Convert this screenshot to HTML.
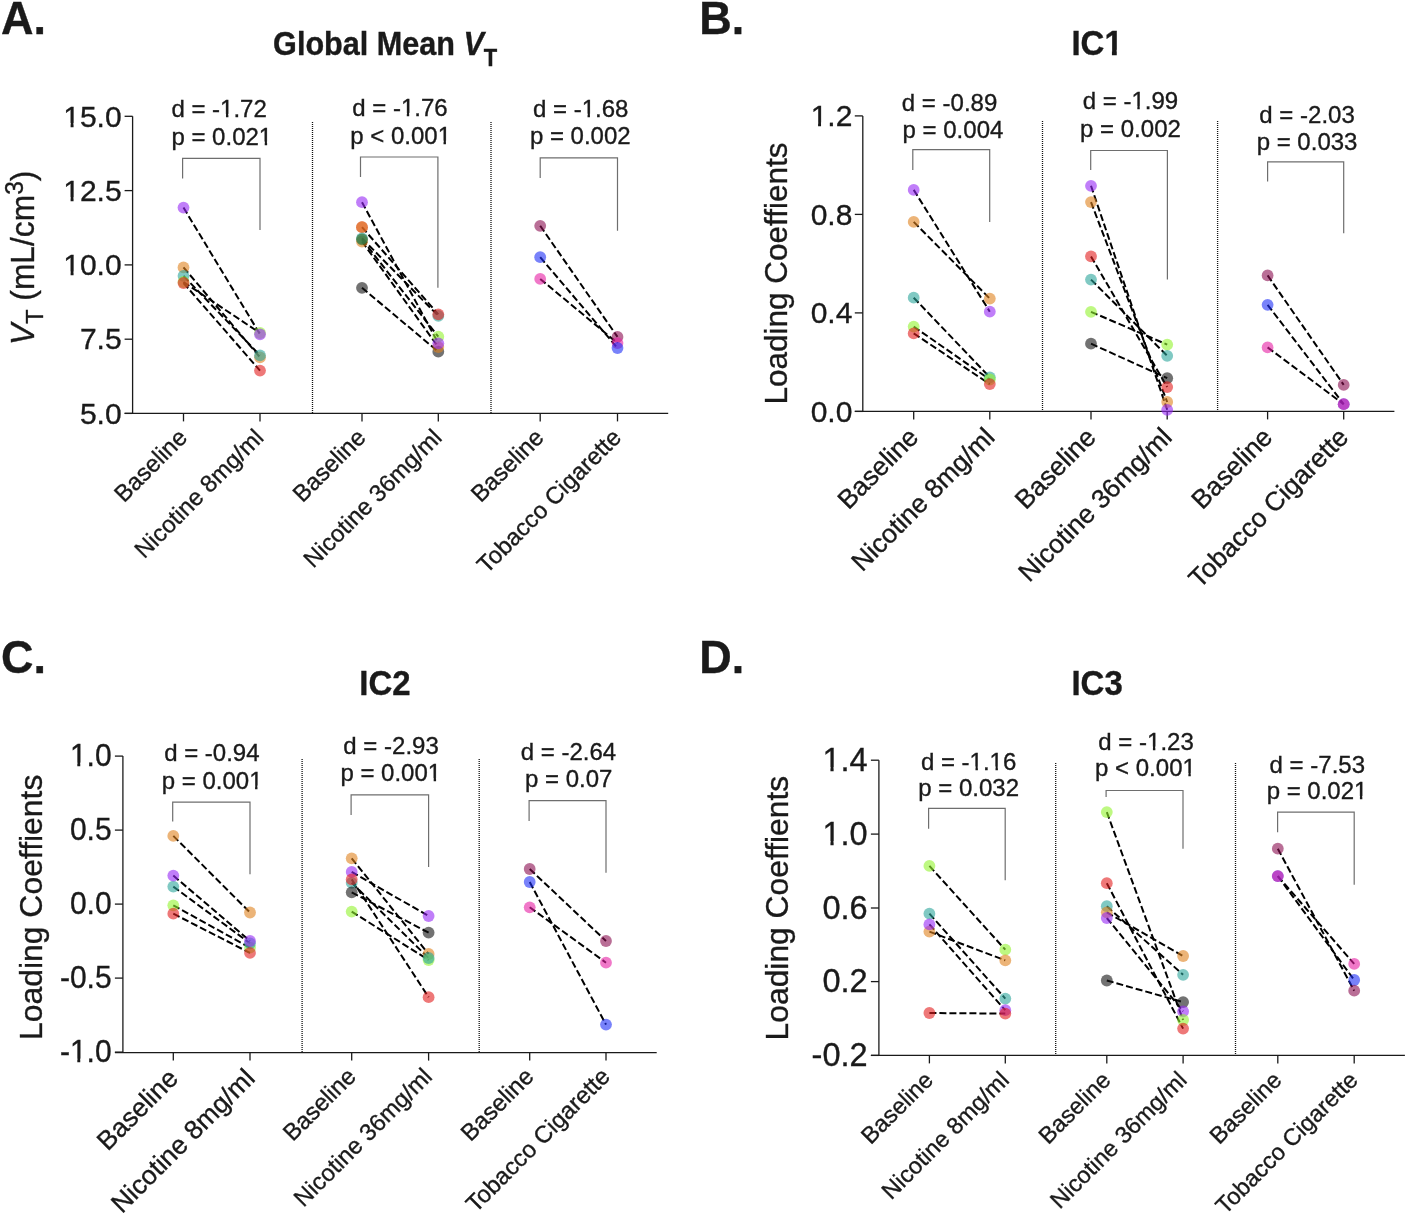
<!DOCTYPE html>
<html><head><meta charset="utf-8"><style>
html,body{margin:0;padding:0;background:#fff;}
svg{display:block;will-change:transform;}
text{font-family:"Liberation Sans", sans-serif;fill:#1a1a1a;stroke:#1a1a1a;stroke-width:0.35px;}
.ax{stroke:#1a1a1a;stroke-width:1.3;fill:none;}
.dot{stroke:#111;stroke-width:1.3;stroke-dasharray:1 1;fill:none;}
.br{stroke:#6e6e6e;stroke-width:1.2;fill:none;}
.dl{stroke:#000;stroke-width:2;stroke-dasharray:7 3;fill:none;}
</style></head><body>
<svg width="1408" height="1215" viewBox="0 0 1408 1215">
<rect width="1408" height="1215" fill="#fff"/>
<line x1="132.6" y1="116.3" x2="132.6" y2="413.4" class="ax"/>
<line x1="124.6" y1="413.4" x2="668.2" y2="413.4" class="ax"/>
<line x1="124.6" y1="116.3" x2="132.6" y2="116.3" class="ax"/>
<g transform="translate(121.6,126.5)"><text id="t1" x="0" y="0" font-size="30" text-anchor="end" font-weight="normal" >15.0</text><rect x="-57.41" y="-3.54" width="6.41" height="5.14" fill="#fff"/><rect x="-48.05" y="-3.54" width="6.17" height="5.14" fill="#fff"/></g>
<line x1="124.6" y1="190.6" x2="132.6" y2="190.6" class="ax"/>
<g transform="translate(121.6,200.8)"><text id="t2" x="0" y="0" font-size="30" text-anchor="end" font-weight="normal" >12.5</text><rect x="-57.41" y="-3.54" width="6.41" height="5.14" fill="#fff"/><rect x="-48.05" y="-3.54" width="6.17" height="5.14" fill="#fff"/></g>
<line x1="124.6" y1="264.9" x2="132.6" y2="264.9" class="ax"/>
<g transform="translate(121.6,275.1)"><text id="t3" x="0" y="0" font-size="30" text-anchor="end" font-weight="normal" >10.0</text><rect x="-57.41" y="-3.54" width="6.41" height="5.14" fill="#fff"/><rect x="-48.05" y="-3.54" width="6.17" height="5.14" fill="#fff"/></g>
<line x1="124.6" y1="339.2" x2="132.6" y2="339.2" class="ax"/>
<text x="0" y="0" font-size="30" text-anchor="end" font-weight="normal" transform="translate(121.6,349.4)" >7.5</text>
<line x1="124.6" y1="413.4" x2="132.6" y2="413.4" class="ax"/>
<text x="0" y="0" font-size="30" text-anchor="end" font-weight="normal" transform="translate(121.6,423.6)" >5.0</text>
<line x1="183.5" y1="413.4" x2="183.5" y2="421.4" class="ax"/>
<line x1="260.0" y1="413.4" x2="260.0" y2="421.4" class="ax"/>
<line x1="362.0" y1="413.4" x2="362.0" y2="421.4" class="ax"/>
<line x1="438.3" y1="413.4" x2="438.3" y2="421.4" class="ax"/>
<line x1="540.2" y1="413.4" x2="540.2" y2="421.4" class="ax"/>
<line x1="617.5" y1="413.4" x2="617.5" y2="421.4" class="ax"/>
<line x1="312.5" y1="122" x2="312.5" y2="413.4" class="dot"/>
<line x1="491.0" y1="122" x2="491.0" y2="413.4" class="dot"/>
<path d="M182.6 178.6 V158.4 H260.0 V230.0" class="br"/>
<g transform="translate(219.1,117.0)"><text id="t4" x="0" y="0" font-size="24" text-anchor="middle" font-weight="normal" >d = -1.72</text><rect x="1.51" y="-3.09" width="5.36" height="4.69" fill="#fff"/><rect x="9.29" y="-3.09" width="5.17" height="4.69" fill="#fff"/></g>
<g transform="translate(221.8,144.6)"><text id="t5" x="0" y="0" font-size="24" text-anchor="middle" font-weight="normal" >p = 0.021</text><rect x="37.55" y="-3.09" width="5.36" height="4.69" fill="#fff"/><rect x="45.33" y="-3.09" width="5.17" height="4.69" fill="#fff"/></g>
<path d="M360.5 176.9 V157.0 H437.9 V287.8" class="br"/>
<g transform="translate(399.9,116.0)"><text id="t6" x="0" y="0" font-size="24" text-anchor="middle" font-weight="normal" >d = -1.76</text><rect x="1.51" y="-3.09" width="5.36" height="4.69" fill="#fff"/><rect x="9.29" y="-3.09" width="5.17" height="4.69" fill="#fff"/></g>
<g transform="translate(400.6,143.7)"><text id="t7" x="0" y="0" font-size="24" text-anchor="middle" font-weight="normal" >p &lt; 0.001</text><rect x="37.55" y="-3.09" width="5.36" height="4.69" fill="#fff"/><rect x="45.33" y="-3.09" width="5.17" height="4.69" fill="#fff"/></g>
<path d="M540.2 178.1 V157.9 H617.5 V230.7" class="br"/>
<g transform="translate(580.65,116.7)"><text id="t8" x="0" y="0" font-size="24" text-anchor="middle" font-weight="normal" >d = -1.68</text><rect x="1.51" y="-3.09" width="5.36" height="4.69" fill="#fff"/><rect x="9.29" y="-3.09" width="5.17" height="4.69" fill="#fff"/></g>
<text x="0" y="0" font-size="24" text-anchor="middle" font-weight="normal" transform="translate(580.25,144.3)" >p = 0.002</text>
<line x1="183.5" y1="207.6" x2="260.0" y2="334.3" class="dl"/>
<line x1="183.5" y1="282.0" x2="260.0" y2="333.0" class="dl"/>
<line x1="183.5" y1="275.9" x2="260.0" y2="355.4" class="dl"/>
<line x1="183.5" y1="267.4" x2="260.0" y2="357.3" class="dl"/>
<line x1="183.5" y1="283.0" x2="260.0" y2="370.6" class="dl"/>
<line x1="362.0" y1="202.2" x2="438.3" y2="343.3" class="dl"/>
<line x1="362.0" y1="227.2" x2="438.3" y2="314.3" class="dl"/>
<line x1="362.0" y1="238.3" x2="438.3" y2="315.9" class="dl"/>
<line x1="362.0" y1="239.3" x2="438.3" y2="336.7" class="dl"/>
<line x1="362.0" y1="241.5" x2="438.3" y2="347.1" class="dl"/>
<line x1="362.0" y1="287.8" x2="438.3" y2="351.7" class="dl"/>
<line x1="540.2" y1="225.8" x2="617.5" y2="336.9" class="dl"/>
<line x1="540.2" y1="257.2" x2="617.5" y2="348.0" class="dl"/>
<line x1="540.2" y1="278.9" x2="617.5" y2="343.1" class="dl"/>
<circle cx="183.5" cy="267.4" r="5.9" fill="rgb(223,130,30)" fill-opacity="0.6"/>
<circle cx="183.5" cy="275.9" r="5.9" fill="rgb(43,165,155)" fill-opacity="0.6"/>
<circle cx="183.5" cy="282.0" r="5.9" fill="rgb(147,243,47)" fill-opacity="0.6"/>
<circle cx="183.5" cy="283.0" r="5.9" fill="rgb(227,30,30)" fill-opacity="0.6"/>
<circle cx="183.5" cy="207.6" r="5.9" fill="rgb(150,40,245)" fill-opacity="0.6"/>
<circle cx="260.0" cy="333.0" r="5.9" fill="rgb(147,243,47)" fill-opacity="0.6"/>
<circle cx="260.0" cy="334.3" r="5.9" fill="rgb(150,40,245)" fill-opacity="0.6"/>
<circle cx="260.0" cy="357.3" r="5.9" fill="rgb(223,130,30)" fill-opacity="0.6"/>
<circle cx="260.0" cy="355.4" r="5.9" fill="rgb(43,165,155)" fill-opacity="0.6"/>
<circle cx="260.0" cy="370.6" r="5.9" fill="rgb(227,30,30)" fill-opacity="0.6"/>
<circle cx="362.0" cy="202.2" r="5.9" fill="rgb(150,40,245)" fill-opacity="0.6"/>
<circle cx="362.0" cy="227.2" r="5.9" fill="rgb(227,30,30)" fill-opacity="0.6"/>
<circle cx="362.0" cy="227.2" r="5.9" fill="rgb(223,130,30)" fill-opacity="0.6"/>
<circle cx="362.0" cy="241.5" r="5.9" fill="rgb(223,130,30)" fill-opacity="0.6"/>
<circle cx="362.0" cy="238.3" r="5.9" fill="rgb(43,165,155)" fill-opacity="0.6"/>
<circle cx="362.0" cy="239.3" r="5.9" fill="rgb(47,105,38)" fill-opacity="0.6"/>
<circle cx="362.0" cy="287.8" r="5.9" fill="rgb(20,20,20)" fill-opacity="0.6"/>
<circle cx="438.3" cy="315.9" r="5.9" fill="rgb(43,165,155)" fill-opacity="0.6"/>
<circle cx="438.3" cy="314.3" r="5.9" fill="rgb(227,30,30)" fill-opacity="0.6"/>
<circle cx="438.3" cy="351.7" r="5.9" fill="rgb(20,20,20)" fill-opacity="0.6"/>
<circle cx="438.3" cy="347.1" r="5.9" fill="rgb(223,130,30)" fill-opacity="0.6"/>
<circle cx="438.3" cy="336.7" r="5.9" fill="rgb(147,243,47)" fill-opacity="0.6"/>
<circle cx="438.3" cy="343.3" r="5.9" fill="rgb(150,40,245)" fill-opacity="0.6"/>
<circle cx="540.2" cy="225.8" r="5.9" fill="rgb(138,13,80)" fill-opacity="0.6"/>
<circle cx="540.2" cy="257.2" r="5.9" fill="rgb(30,47,247)" fill-opacity="0.6"/>
<circle cx="540.2" cy="278.9" r="5.9" fill="rgb(230,30,163)" fill-opacity="0.6"/>
<circle cx="617.5" cy="336.9" r="5.9" fill="rgb(138,13,80)" fill-opacity="0.6"/>
<circle cx="617.5" cy="343.1" r="5.9" fill="rgb(230,30,163)" fill-opacity="0.6"/>
<circle cx="617.5" cy="348.0" r="5.9" fill="rgb(30,47,247)" fill-opacity="0.6"/>
<text x="0" y="0" font-size="23.8" text-anchor="end" font-weight="normal" transform="translate(188.5,438.9) rotate(-45)" >Baseline</text>
<text x="0" y="0" font-size="23.8" text-anchor="end" font-weight="normal" transform="translate(265.0,438.9) rotate(-45)" >Nicotine 8mg/ml</text>
<text x="0" y="0" font-size="23.8" text-anchor="end" font-weight="normal" transform="translate(367.0,438.9) rotate(-45)" >Baseline</text>
<text x="0" y="0" font-size="23.8" text-anchor="end" font-weight="normal" transform="translate(443.3,438.9) rotate(-45)" >Nicotine 36mg/ml</text>
<text x="0" y="0" font-size="23.8" text-anchor="end" font-weight="normal" transform="translate(545.2,438.9) rotate(-45)" >Baseline</text>
<text x="0" y="0" font-size="23.8" text-anchor="end" font-weight="normal" transform="translate(622.5,438.9) rotate(-45)" >Tobacco Cigarette</text>
<text x="0" y="0" font-size="45" text-anchor="start" font-weight="bold" transform="translate(1,33.7) scale(1,1.03)" >A.</text>
<text x="0" y="0" font-size="30.6" text-anchor="start" font-weight="bold" transform="translate(273.1,54.8) scale(1,1.073)" >Global Mean <tspan font-style="italic">V</tspan><tspan font-size="22" dy="10">T</tspan></text>
<text x="0" y="0" font-size="31.75" text-anchor="start" font-weight="normal" transform="translate(34,345.0) rotate(-90) scale(1,1.03)" ><tspan font-style="italic">V</tspan><tspan font-size="23.5" dy="9">T</tspan><tspan dy="-9"> (mL/cm</tspan><tspan font-size="24.5" dy="-10.4">3</tspan><tspan dy="10.4">)</tspan></text>
<line x1="862.8" y1="115.9" x2="862.8" y2="411.4" class="ax"/>
<line x1="854.8" y1="411.4" x2="1394.4" y2="411.4" class="ax"/>
<line x1="854.8" y1="115.9" x2="862.8" y2="115.9" class="ax"/>
<g transform="translate(852.4,126.0)"><text id="t9" x="0" y="0" font-size="30" text-anchor="end" font-weight="normal" >1.2</text><rect x="-40.73" y="-3.54" width="6.41" height="5.14" fill="#fff"/><rect x="-31.37" y="-3.54" width="6.17" height="5.14" fill="#fff"/></g>
<line x1="854.8" y1="214.4" x2="862.8" y2="214.4" class="ax"/>
<text x="0" y="0" font-size="30" text-anchor="end" font-weight="normal" transform="translate(852.4,224.5)" >0.8</text>
<line x1="854.8" y1="312.9" x2="862.8" y2="312.9" class="ax"/>
<text x="0" y="0" font-size="30" text-anchor="end" font-weight="normal" transform="translate(852.4,323.0)" >0.4</text>
<line x1="854.8" y1="411.4" x2="862.8" y2="411.4" class="ax"/>
<text x="0" y="0" font-size="30" text-anchor="end" font-weight="normal" transform="translate(852.4,421.5)" >0.0</text>
<line x1="913.7" y1="411.4" x2="913.7" y2="419.4" class="ax"/>
<line x1="989.8" y1="411.4" x2="989.8" y2="419.4" class="ax"/>
<line x1="1091.0" y1="411.4" x2="1091.0" y2="419.4" class="ax"/>
<line x1="1167.2" y1="411.4" x2="1167.2" y2="419.4" class="ax"/>
<line x1="1267.6" y1="411.4" x2="1267.6" y2="419.4" class="ax"/>
<line x1="1343.7" y1="411.4" x2="1343.7" y2="419.4" class="ax"/>
<line x1="1042.5" y1="121" x2="1042.5" y2="411.4" class="dot"/>
<line x1="1217.6" y1="121" x2="1217.6" y2="411.4" class="dot"/>
<path d="M912.8 169.9 V149.7 H989.7 V221.9" class="br"/>
<text x="0" y="0" font-size="24" text-anchor="middle" font-weight="normal" transform="translate(949.55,110.6)" >d = -0.89</text>
<text x="0" y="0" font-size="24" text-anchor="middle" font-weight="normal" transform="translate(952.95,138.3)" >p = 0.004</text>
<path d="M1090.7 170.1 V150.5 H1167.4 V279.6" class="br"/>
<g transform="translate(1130.45,109.4)"><text id="t10" x="0" y="0" font-size="24" text-anchor="middle" font-weight="normal" >d = -1.99</text><rect x="1.51" y="-3.09" width="5.36" height="4.69" fill="#fff"/><rect x="9.29" y="-3.09" width="5.17" height="4.69" fill="#fff"/></g>
<text x="0" y="0" font-size="24" text-anchor="middle" font-weight="normal" transform="translate(1130.45,137.4)" >p = 0.002</text>
<path d="M1267.6 181.4 V161.8 H1343.7 V233.3" class="br"/>
<text x="0" y="0" font-size="24" text-anchor="middle" font-weight="normal" transform="translate(1307.05,122.6)" >d = -2.03</text>
<text x="0" y="0" font-size="24" text-anchor="middle" font-weight="normal" transform="translate(1307.05,149.7)" >p = 0.033</text>
<line x1="913.7" y1="189.9" x2="989.8" y2="311.7" class="dl"/>
<line x1="913.7" y1="221.9" x2="989.8" y2="298.6" class="dl"/>
<line x1="913.7" y1="297.7" x2="989.8" y2="377.3" class="dl"/>
<line x1="913.7" y1="326.6" x2="989.8" y2="379.5" class="dl"/>
<line x1="913.7" y1="333.4" x2="989.8" y2="384.1" class="dl"/>
<line x1="1091.0" y1="185.8" x2="1167.2" y2="409.8" class="dl"/>
<line x1="1091.0" y1="202.1" x2="1167.2" y2="402.0" class="dl"/>
<line x1="1091.0" y1="256.4" x2="1167.2" y2="387.1" class="dl"/>
<line x1="1091.0" y1="279.6" x2="1167.2" y2="355.8" class="dl"/>
<line x1="1091.0" y1="311.8" x2="1167.2" y2="344.6" class="dl"/>
<line x1="1091.0" y1="343.7" x2="1167.2" y2="378.2" class="dl"/>
<line x1="1267.6" y1="275.4" x2="1343.7" y2="384.9" class="dl"/>
<line x1="1267.6" y1="304.8" x2="1343.7" y2="404.2" class="dl"/>
<line x1="1267.6" y1="347.4" x2="1343.7" y2="404.2" class="dl"/>
<circle cx="913.7" cy="189.9" r="5.9" fill="rgb(150,40,245)" fill-opacity="0.6"/>
<circle cx="913.7" cy="221.9" r="5.9" fill="rgb(223,130,30)" fill-opacity="0.6"/>
<circle cx="913.7" cy="297.7" r="5.9" fill="rgb(43,165,155)" fill-opacity="0.6"/>
<circle cx="913.7" cy="326.6" r="5.9" fill="rgb(147,243,47)" fill-opacity="0.6"/>
<circle cx="913.7" cy="333.4" r="5.9" fill="rgb(227,30,30)" fill-opacity="0.6"/>
<circle cx="989.8" cy="298.6" r="5.9" fill="rgb(223,130,30)" fill-opacity="0.6"/>
<circle cx="989.8" cy="311.7" r="5.9" fill="rgb(150,40,245)" fill-opacity="0.6"/>
<circle cx="989.8" cy="377.3" r="5.9" fill="rgb(43,165,155)" fill-opacity="0.6"/>
<circle cx="989.8" cy="379.5" r="5.9" fill="rgb(147,243,47)" fill-opacity="0.6"/>
<circle cx="989.8" cy="384.1" r="5.9" fill="rgb(227,30,30)" fill-opacity="0.6"/>
<circle cx="1091.0" cy="185.8" r="5.9" fill="rgb(150,40,245)" fill-opacity="0.6"/>
<circle cx="1091.0" cy="202.1" r="5.9" fill="rgb(223,130,30)" fill-opacity="0.6"/>
<circle cx="1091.0" cy="256.4" r="5.9" fill="rgb(227,30,30)" fill-opacity="0.6"/>
<circle cx="1091.0" cy="279.6" r="5.9" fill="rgb(43,165,155)" fill-opacity="0.6"/>
<circle cx="1091.0" cy="311.8" r="5.9" fill="rgb(147,243,47)" fill-opacity="0.6"/>
<circle cx="1091.0" cy="343.7" r="5.9" fill="rgb(20,20,20)" fill-opacity="0.6"/>
<circle cx="1167.2" cy="344.6" r="5.9" fill="rgb(147,243,47)" fill-opacity="0.6"/>
<circle cx="1167.2" cy="355.8" r="5.9" fill="rgb(43,165,155)" fill-opacity="0.6"/>
<circle cx="1167.2" cy="378.2" r="5.9" fill="rgb(20,20,20)" fill-opacity="0.6"/>
<circle cx="1167.2" cy="387.1" r="5.9" fill="rgb(227,30,30)" fill-opacity="0.6"/>
<circle cx="1167.2" cy="402.0" r="5.9" fill="rgb(223,130,30)" fill-opacity="0.6"/>
<circle cx="1167.2" cy="409.8" r="5.9" fill="rgb(150,40,245)" fill-opacity="0.6"/>
<circle cx="1267.6" cy="275.4" r="5.9" fill="rgb(138,13,80)" fill-opacity="0.6"/>
<circle cx="1267.6" cy="304.8" r="5.9" fill="rgb(30,47,247)" fill-opacity="0.6"/>
<circle cx="1267.6" cy="347.4" r="5.9" fill="rgb(230,30,163)" fill-opacity="0.6"/>
<circle cx="1343.7" cy="384.9" r="5.9" fill="rgb(138,13,80)" fill-opacity="0.6"/>
<circle cx="1343.7" cy="404.2" r="5.9" fill="rgb(30,47,247)" fill-opacity="0.6"/>
<circle cx="1343.7" cy="404.2" r="5.9" fill="rgb(230,30,163)" fill-opacity="0.6"/>
<text x="0" y="0" font-size="26.4" text-anchor="end" font-weight="normal" transform="translate(920.0,438.8) rotate(-45)" >Baseline</text>
<text x="0" y="0" font-size="26.4" text-anchor="end" font-weight="normal" transform="translate(996.1,438.8) rotate(-45)" >Nicotine 8mg/ml</text>
<text x="0" y="0" font-size="26.4" text-anchor="end" font-weight="normal" transform="translate(1097.3,438.8) rotate(-45)" >Baseline</text>
<text x="0" y="0" font-size="26.4" text-anchor="end" font-weight="normal" transform="translate(1173.5,438.8) rotate(-45)" >Nicotine 36mg/ml</text>
<text x="0" y="0" font-size="26.4" text-anchor="end" font-weight="normal" transform="translate(1273.9,438.8) rotate(-45)" >Baseline</text>
<text x="0" y="0" font-size="26.4" text-anchor="end" font-weight="normal" transform="translate(1350.0,438.8) rotate(-45)" >Tobacco Cigarette</text>
<text x="0" y="0" font-size="45" text-anchor="start" font-weight="bold" transform="translate(699.2,33.7) scale(1,1.03)" >B.</text>
<g transform="translate(1071.4,54.8) scale(1,1.083)"><text id="t11" x="0" y="0" font-size="33" text-anchor="start" font-weight="bold" >IC1</text><rect x="33.76" y="-4.67" width="6.77" height="6.27" fill="#fff"/><rect x="45.36" y="-4.67" width="6.35" height="6.27" fill="#fff"/></g>
<text x="0" y="0" font-size="31.5" text-anchor="start" font-weight="normal" transform="translate(786.7,404.6) rotate(-90)" >Loading Coeffients</text>
<line x1="122.9" y1="756.1" x2="122.9" y2="1052.6" class="ax"/>
<line x1="114.9" y1="1052.6" x2="656.7" y2="1052.6" class="ax"/>
<line x1="114.9" y1="756.1" x2="122.9" y2="756.1" class="ax"/>
<g transform="translate(111.6,766.3) scale(1,1.03)"><text id="t12" x="0" y="0" font-size="30" text-anchor="end" font-weight="normal" >1.0</text><rect x="-40.70" y="-3.54" width="6.41" height="5.14" fill="#fff"/><rect x="-31.34" y="-3.54" width="6.17" height="5.14" fill="#fff"/></g>
<line x1="114.9" y1="830.1" x2="122.9" y2="830.1" class="ax"/>
<text x="0" y="0" font-size="30" text-anchor="end" font-weight="normal" transform="translate(111.6,840.3) scale(1,1.03)" >0.5</text>
<line x1="114.9" y1="904.1" x2="122.9" y2="904.1" class="ax"/>
<text x="0" y="0" font-size="30" text-anchor="end" font-weight="normal" transform="translate(111.6,914.3) scale(1,1.03)" >0.0</text>
<line x1="114.9" y1="978.1" x2="122.9" y2="978.1" class="ax"/>
<text x="0" y="0" font-size="30" text-anchor="end" font-weight="normal" transform="translate(111.6,988.3) scale(1,1.03)" >-0.5</text>
<line x1="114.9" y1="1052.1" x2="122.9" y2="1052.1" class="ax"/>
<g transform="translate(111.6,1062.3) scale(1,1.03)"><text id="t13" x="0" y="0" font-size="30" text-anchor="end" font-weight="normal" >-1.0</text><rect x="-40.71" y="-3.54" width="6.41" height="5.14" fill="#fff"/><rect x="-31.35" y="-3.54" width="6.17" height="5.14" fill="#fff"/></g>
<line x1="173.3" y1="1052.6" x2="173.3" y2="1060.6" class="ax"/>
<line x1="250.0" y1="1052.6" x2="250.0" y2="1060.6" class="ax"/>
<line x1="351.7" y1="1052.6" x2="351.7" y2="1060.6" class="ax"/>
<line x1="428.6" y1="1052.6" x2="428.6" y2="1060.6" class="ax"/>
<line x1="529.7" y1="1052.6" x2="529.7" y2="1060.6" class="ax"/>
<line x1="606.0" y1="1052.6" x2="606.0" y2="1060.6" class="ax"/>
<line x1="302.1" y1="759" x2="302.1" y2="1052.6" class="dot"/>
<line x1="479.2" y1="759" x2="479.2" y2="1052.6" class="dot"/>
<path d="M172.7 821.4 V802.1 H250.0 V874.2" class="br"/>
<text x="0" y="0" font-size="24" text-anchor="middle" font-weight="normal" transform="translate(211.85,760.9)" >d = -0.94</text>
<g transform="translate(212.15,788.6)"><text id="t14" x="0" y="0" font-size="24" text-anchor="middle" font-weight="normal" >p = 0.001</text><rect x="37.55" y="-3.09" width="5.36" height="4.69" fill="#fff"/><rect x="45.33" y="-3.09" width="5.17" height="4.69" fill="#fff"/></g>
<path d="M351.1 815.1 V794.9 H428.6 V867.0" class="br"/>
<text x="0" y="0" font-size="24" text-anchor="middle" font-weight="normal" transform="translate(391.05,754.0)" >d = -2.93</text>
<g transform="translate(390.75,781.4)"><text id="t15" x="0" y="0" font-size="24" text-anchor="middle" font-weight="normal" >p = 0.001</text><rect x="37.55" y="-3.09" width="5.36" height="4.69" fill="#fff"/><rect x="45.33" y="-3.09" width="5.17" height="4.69" fill="#fff"/></g>
<path d="M529.1 820.9 V800.7 H606.0 V872.7" class="br"/>
<text x="0" y="0" font-size="24" text-anchor="middle" font-weight="normal" transform="translate(568.45,759.8)" >d = -2.64</text>
<text x="0" y="0" font-size="24" text-anchor="middle" font-weight="normal" transform="translate(568.75,786.9)" >p = 0.07</text>
<line x1="173.3" y1="835.9" x2="250.0" y2="912.5" class="dl"/>
<line x1="173.3" y1="875.6" x2="250.0" y2="941.0" class="dl"/>
<line x1="173.3" y1="886.6" x2="250.0" y2="943.3" class="dl"/>
<line x1="173.3" y1="905.3" x2="250.0" y2="947.7" class="dl"/>
<line x1="173.3" y1="913.7" x2="250.0" y2="952.9" class="dl"/>
<line x1="351.7" y1="858.3" x2="428.6" y2="954.0" class="dl"/>
<line x1="351.7" y1="871.9" x2="428.6" y2="916.0" class="dl"/>
<line x1="351.7" y1="879.4" x2="428.6" y2="997.2" class="dl"/>
<line x1="351.7" y1="882.8" x2="428.6" y2="958.0" class="dl"/>
<line x1="351.7" y1="892.3" x2="428.6" y2="932.7" class="dl"/>
<line x1="351.7" y1="911.6" x2="428.6" y2="960.0" class="dl"/>
<line x1="529.7" y1="869.0" x2="606.0" y2="941.0" class="dl"/>
<line x1="529.7" y1="882.0" x2="606.0" y2="1024.6" class="dl"/>
<line x1="529.7" y1="907.3" x2="606.0" y2="962.7" class="dl"/>
<circle cx="173.3" cy="835.9" r="5.9" fill="rgb(223,130,30)" fill-opacity="0.6"/>
<circle cx="173.3" cy="886.6" r="5.9" fill="rgb(43,165,155)" fill-opacity="0.6"/>
<circle cx="173.3" cy="875.6" r="5.9" fill="rgb(150,40,245)" fill-opacity="0.6"/>
<circle cx="173.3" cy="905.3" r="5.9" fill="rgb(147,243,47)" fill-opacity="0.6"/>
<circle cx="173.3" cy="913.7" r="5.9" fill="rgb(227,30,30)" fill-opacity="0.6"/>
<circle cx="250.0" cy="912.5" r="5.9" fill="rgb(223,130,30)" fill-opacity="0.6"/>
<circle cx="250.0" cy="947.7" r="5.9" fill="rgb(147,243,47)" fill-opacity="0.6"/>
<circle cx="250.0" cy="943.3" r="5.9" fill="rgb(43,165,155)" fill-opacity="0.6"/>
<circle cx="250.0" cy="941.0" r="5.9" fill="rgb(150,40,245)" fill-opacity="0.6"/>
<circle cx="250.0" cy="952.9" r="5.9" fill="rgb(227,30,30)" fill-opacity="0.6"/>
<circle cx="351.7" cy="858.3" r="5.9" fill="rgb(223,130,30)" fill-opacity="0.6"/>
<circle cx="351.7" cy="882.8" r="5.9" fill="rgb(43,165,155)" fill-opacity="0.6"/>
<circle cx="351.7" cy="871.9" r="5.9" fill="rgb(150,40,245)" fill-opacity="0.6"/>
<circle cx="351.7" cy="879.4" r="5.9" fill="rgb(227,30,30)" fill-opacity="0.6"/>
<circle cx="351.7" cy="892.3" r="5.9" fill="rgb(20,20,20)" fill-opacity="0.6"/>
<circle cx="351.7" cy="911.6" r="5.9" fill="rgb(147,243,47)" fill-opacity="0.6"/>
<circle cx="428.6" cy="916.0" r="5.9" fill="rgb(150,40,245)" fill-opacity="0.6"/>
<circle cx="428.6" cy="932.7" r="5.9" fill="rgb(20,20,20)" fill-opacity="0.6"/>
<circle cx="428.6" cy="954.0" r="5.9" fill="rgb(223,130,30)" fill-opacity="0.6"/>
<circle cx="428.6" cy="960.0" r="5.9" fill="rgb(147,243,47)" fill-opacity="0.6"/>
<circle cx="428.6" cy="958.0" r="5.9" fill="rgb(43,165,155)" fill-opacity="0.6"/>
<circle cx="428.6" cy="997.2" r="5.9" fill="rgb(227,30,30)" fill-opacity="0.6"/>
<circle cx="529.7" cy="869.0" r="5.9" fill="rgb(138,13,80)" fill-opacity="0.6"/>
<circle cx="529.7" cy="882.0" r="5.9" fill="rgb(30,47,247)" fill-opacity="0.6"/>
<circle cx="529.7" cy="907.3" r="5.9" fill="rgb(230,30,163)" fill-opacity="0.6"/>
<circle cx="606.0" cy="941.0" r="5.9" fill="rgb(138,13,80)" fill-opacity="0.6"/>
<circle cx="606.0" cy="962.7" r="5.9" fill="rgb(230,30,163)" fill-opacity="0.6"/>
<circle cx="606.0" cy="1024.6" r="5.9" fill="rgb(30,47,247)" fill-opacity="0.6"/>
<text x="0" y="0" font-size="26.5" text-anchor="end" font-weight="normal" transform="translate(179.6,1079.9) rotate(-45)" >Baseline</text>
<text x="0" y="0" font-size="26.5" text-anchor="end" font-weight="normal" transform="translate(256.3,1079.9) rotate(-45)" >Nicotine 8mg/ml</text>
<text x="0" y="0" font-size="23.8" text-anchor="end" font-weight="normal" transform="translate(357.3,1077.8) rotate(-45)" >Baseline</text>
<text x="0" y="0" font-size="23.8" text-anchor="end" font-weight="normal" transform="translate(433.6,1078.0) rotate(-45)" >Nicotine 36mg/ml</text>
<text x="0" y="0" font-size="23.8" text-anchor="end" font-weight="normal" transform="translate(535.0,1077.9) rotate(-45)" >Baseline</text>
<text x="0" y="0" font-size="23.8" text-anchor="end" font-weight="normal" transform="translate(611.3,1077.9) rotate(-45)" >Tobacco Cigarette</text>
<text x="0" y="0" font-size="45" text-anchor="start" font-weight="bold" transform="translate(1,673.3) scale(1,1.03)" >C.</text>
<text x="0" y="0" font-size="33" text-anchor="start" font-weight="bold" transform="translate(359.25,694.8) scale(1,1.083)" >IC2</text>
<text x="0" y="0" font-size="31.9" text-anchor="start" font-weight="normal" transform="translate(42.1,1040.0) rotate(-90)" >Loading Coeffients</text>
<line x1="878.9" y1="760.2" x2="878.9" y2="1055.4" class="ax"/>
<line x1="870.9" y1="1055.4" x2="1404.9" y2="1055.4" class="ax"/>
<line x1="870.9" y1="760.2" x2="878.9" y2="760.2" class="ax"/>
<g transform="translate(867.6,771.0) scale(1,1.03)"><text id="t16" x="0" y="0" font-size="32.5" text-anchor="end" font-weight="normal" >1.4</text><rect x="-44.00" y="-3.73" width="6.85" height="5.33" fill="#fff"/><rect x="-33.98" y="-3.73" width="6.59" height="5.33" fill="#fff"/></g>
<line x1="870.9" y1="834.1" x2="878.9" y2="834.1" class="ax"/>
<g transform="translate(867.6,844.9) scale(1,1.03)"><text id="t17" x="0" y="0" font-size="32.5" text-anchor="end" font-weight="normal" >1.0</text><rect x="-44.00" y="-3.73" width="6.85" height="5.33" fill="#fff"/><rect x="-33.98" y="-3.73" width="6.59" height="5.33" fill="#fff"/></g>
<line x1="870.9" y1="908.0" x2="878.9" y2="908.0" class="ax"/>
<text x="0" y="0" font-size="32.5" text-anchor="end" font-weight="normal" transform="translate(867.6,918.8) scale(1,1.03)" >0.6</text>
<line x1="870.9" y1="981.6" x2="878.9" y2="981.6" class="ax"/>
<text x="0" y="0" font-size="32.5" text-anchor="end" font-weight="normal" transform="translate(867.6,992.4) scale(1,1.03)" >0.2</text>
<line x1="870.9" y1="1055.4" x2="878.9" y2="1055.4" class="ax"/>
<text x="0" y="0" font-size="32.5" text-anchor="end" font-weight="normal" transform="translate(867.6,1066.2) scale(1,1.03)" >-0.2</text>
<line x1="929.4" y1="1055.4" x2="929.4" y2="1063.4" class="ax"/>
<line x1="1005.3" y1="1055.4" x2="1005.3" y2="1063.4" class="ax"/>
<line x1="1106.8" y1="1055.4" x2="1106.8" y2="1063.4" class="ax"/>
<line x1="1183.1" y1="1055.4" x2="1183.1" y2="1063.4" class="ax"/>
<line x1="1277.8" y1="1055.4" x2="1277.8" y2="1063.4" class="ax"/>
<line x1="1354.2" y1="1055.4" x2="1354.2" y2="1063.4" class="ax"/>
<line x1="1055.7" y1="763" x2="1055.7" y2="1055.4" class="dot"/>
<line x1="1235.5" y1="763" x2="1235.5" y2="1055.4" class="dot"/>
<path d="M928.6 828.8 V808.4 H1005.2 V880.3" class="br"/>
<g transform="translate(968.6,769.5)"><text id="t18" x="0" y="0" font-size="24" text-anchor="middle" font-weight="normal" >d = -1.16</text><rect x="1.51" y="-3.09" width="5.36" height="4.69" fill="#fff"/><rect x="9.29" y="-3.09" width="5.17" height="4.69" fill="#fff"/><rect x="21.53" y="-3.09" width="5.36" height="4.69" fill="#fff"/><rect x="29.31" y="-3.09" width="5.17" height="4.69" fill="#fff"/></g>
<text x="0" y="0" font-size="24" text-anchor="middle" font-weight="normal" transform="translate(968.6,796.3)" >p = 0.032</text>
<path d="M1106.1 797.1 V790.5 H1183.0 V848.7" class="br"/>
<g transform="translate(1146.05,749.6)"><text id="t19" x="0" y="0" font-size="24" text-anchor="middle" font-weight="normal" >d = -1.23</text><rect x="1.51" y="-3.09" width="5.36" height="4.69" fill="#fff"/><rect x="9.29" y="-3.09" width="5.17" height="4.69" fill="#fff"/></g>
<g transform="translate(1145.45,776.1)"><text id="t20" x="0" y="0" font-size="24" text-anchor="middle" font-weight="normal" >p &lt; 0.001</text><rect x="37.55" y="-3.09" width="5.36" height="4.69" fill="#fff"/><rect x="45.33" y="-3.09" width="5.17" height="4.69" fill="#fff"/></g>
<path d="M1277.6 832.3 V812.1 H1354.2 V884.7" class="br"/>
<text x="0" y="0" font-size="24" text-anchor="middle" font-weight="normal" transform="translate(1317.3,772.7)" >d = -7.53</text>
<g transform="translate(1317.0,799.2)"><text id="t21" x="0" y="0" font-size="24" text-anchor="middle" font-weight="normal" >p = 0.021</text><rect x="37.55" y="-3.09" width="5.36" height="4.69" fill="#fff"/><rect x="45.33" y="-3.09" width="5.17" height="4.69" fill="#fff"/></g>
<line x1="929.4" y1="865.9" x2="1005.3" y2="949.7" class="dl"/>
<line x1="929.4" y1="913.7" x2="1005.3" y2="998.6" class="dl"/>
<line x1="929.4" y1="924.4" x2="1005.3" y2="1010.2" class="dl"/>
<line x1="929.4" y1="931.6" x2="1005.3" y2="960.4" class="dl"/>
<line x1="929.4" y1="1013.0" x2="1005.3" y2="1013.6" class="dl"/>
<line x1="1106.8" y1="812.1" x2="1183.1" y2="1020.0" class="dl"/>
<line x1="1106.8" y1="883.2" x2="1183.1" y2="1028.6" class="dl"/>
<line x1="1106.8" y1="906.2" x2="1183.1" y2="974.8" class="dl"/>
<line x1="1106.8" y1="912.3" x2="1183.1" y2="956.0" class="dl"/>
<line x1="1106.8" y1="918.0" x2="1183.1" y2="1011.3" class="dl"/>
<line x1="1106.8" y1="980.5" x2="1183.1" y2="1002.1" class="dl"/>
<line x1="1277.8" y1="848.7" x2="1354.2" y2="990.7" class="dl"/>
<line x1="1277.8" y1="876.1" x2="1354.2" y2="980.0" class="dl"/>
<line x1="1277.8" y1="876.1" x2="1354.2" y2="963.9" class="dl"/>
<circle cx="929.4" cy="865.9" r="5.9" fill="rgb(147,243,47)" fill-opacity="0.6"/>
<circle cx="929.4" cy="913.7" r="5.9" fill="rgb(43,165,155)" fill-opacity="0.6"/>
<circle cx="929.4" cy="931.6" r="5.9" fill="rgb(223,130,30)" fill-opacity="0.6"/>
<circle cx="929.4" cy="924.4" r="5.9" fill="rgb(150,40,245)" fill-opacity="0.6"/>
<circle cx="929.4" cy="1013.0" r="5.9" fill="rgb(227,30,30)" fill-opacity="0.6"/>
<circle cx="1005.3" cy="949.7" r="5.9" fill="rgb(147,243,47)" fill-opacity="0.6"/>
<circle cx="1005.3" cy="960.4" r="5.9" fill="rgb(223,130,30)" fill-opacity="0.6"/>
<circle cx="1005.3" cy="998.6" r="5.9" fill="rgb(43,165,155)" fill-opacity="0.6"/>
<circle cx="1005.3" cy="1010.2" r="5.9" fill="rgb(150,40,245)" fill-opacity="0.6"/>
<circle cx="1005.3" cy="1013.6" r="5.9" fill="rgb(227,30,30)" fill-opacity="0.6"/>
<circle cx="1106.8" cy="812.1" r="5.9" fill="rgb(147,243,47)" fill-opacity="0.6"/>
<circle cx="1106.8" cy="883.2" r="5.9" fill="rgb(227,30,30)" fill-opacity="0.6"/>
<circle cx="1106.8" cy="906.2" r="5.9" fill="rgb(43,165,155)" fill-opacity="0.6"/>
<circle cx="1106.8" cy="912.3" r="5.9" fill="rgb(223,130,30)" fill-opacity="0.6"/>
<circle cx="1106.8" cy="918.0" r="5.9" fill="rgb(150,40,245)" fill-opacity="0.6"/>
<circle cx="1106.8" cy="980.5" r="5.9" fill="rgb(20,20,20)" fill-opacity="0.6"/>
<circle cx="1183.1" cy="956.0" r="5.9" fill="rgb(223,130,30)" fill-opacity="0.6"/>
<circle cx="1183.1" cy="974.8" r="5.9" fill="rgb(43,165,155)" fill-opacity="0.6"/>
<circle cx="1183.1" cy="1002.1" r="5.9" fill="rgb(20,20,20)" fill-opacity="0.6"/>
<circle cx="1183.1" cy="1011.3" r="5.9" fill="rgb(150,40,245)" fill-opacity="0.6"/>
<circle cx="1183.1" cy="1020.0" r="5.9" fill="rgb(147,243,47)" fill-opacity="0.6"/>
<circle cx="1183.1" cy="1028.6" r="5.9" fill="rgb(227,30,30)" fill-opacity="0.6"/>
<circle cx="1277.8" cy="848.7" r="5.9" fill="rgb(138,13,80)" fill-opacity="0.6"/>
<circle cx="1277.8" cy="876.1" r="5.9" fill="rgb(30,47,247)" fill-opacity="0.6"/>
<circle cx="1277.8" cy="876.1" r="5.9" fill="rgb(230,30,163)" fill-opacity="0.6"/>
<circle cx="1354.2" cy="963.9" r="5.9" fill="rgb(230,30,163)" fill-opacity="0.6"/>
<circle cx="1354.2" cy="980.0" r="5.9" fill="rgb(30,47,247)" fill-opacity="0.6"/>
<circle cx="1354.2" cy="990.7" r="5.9" fill="rgb(138,13,80)" fill-opacity="0.6"/>
<text x="0" y="0" font-size="23.5" text-anchor="end" font-weight="normal" transform="translate(934.5,1081.4) rotate(-45)" >Baseline</text>
<text x="0" y="0" font-size="23.5" text-anchor="end" font-weight="normal" transform="translate(1010.4,1081.4) rotate(-45)" >Nicotine 8mg/ml</text>
<text x="0" y="0" font-size="23.5" text-anchor="end" font-weight="normal" transform="translate(1111.9,1081.4) rotate(-45)" >Baseline</text>
<text x="0" y="0" font-size="23.5" text-anchor="end" font-weight="normal" transform="translate(1188.2,1081.4) rotate(-45)" >Nicotine 36mg/ml</text>
<text x="0" y="0" font-size="23.5" text-anchor="end" font-weight="normal" transform="translate(1282.9,1081.4) rotate(-45)" >Baseline</text>
<text x="0" y="0" font-size="23.5" text-anchor="end" font-weight="normal" transform="translate(1359.3,1081.4) rotate(-45)" >Tobacco Cigarette</text>
<text x="0" y="0" font-size="45" text-anchor="start" font-weight="bold" transform="translate(699.2,672.6) scale(1,1.03)" >D.</text>
<text x="0" y="0" font-size="33" text-anchor="start" font-weight="bold" transform="translate(1071.4,694.8) scale(1,1.083)" >IC3</text>
<text x="0" y="0" font-size="31.8" text-anchor="start" font-weight="normal" transform="translate(787.8,1040.4) rotate(-90)" >Loading Coeffients</text>
</svg></body></html>
